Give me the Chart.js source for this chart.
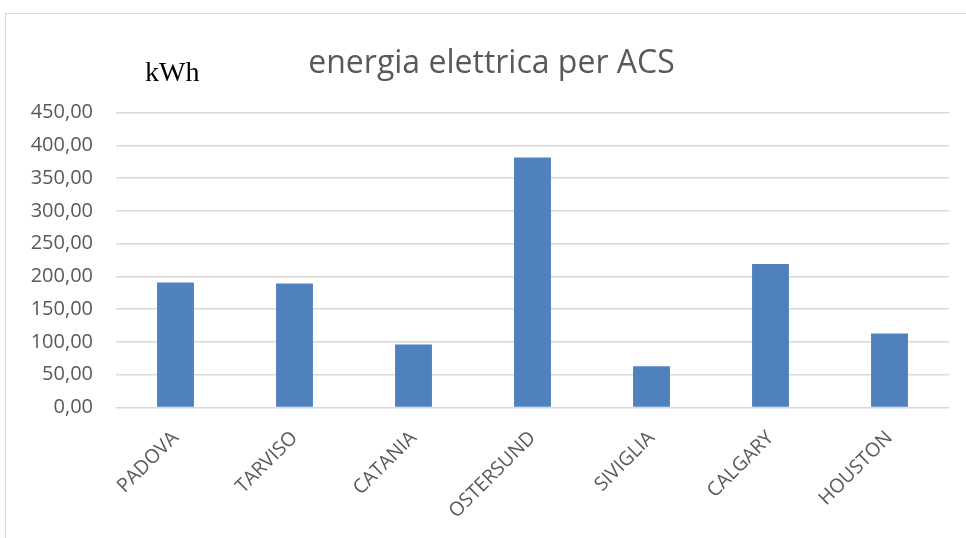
<!DOCTYPE html>
<html>
<head>
<meta charset="utf-8">
<script src="https://cdn.jsdelivr.net/npm/chart.js@4/dist/chart.umd.min.js"></script>
<style>
  html, body { margin: 0; padding: 0; background: #ffffff; }
  body { width: 966px; height: 538px; position: relative; overflow: hidden; }
  #frame { position: absolute; left: 5px; top: 13px; width: 1000px; height: 600px;
           border: 1px solid #d9d9d9; box-sizing: border-box; }
  #wrap { position: absolute; left: 0; top: 0; width: 966px; height: 538px; }
</style>
</head>
<body>
<div id="frame"></div>
<div id="wrap"><canvas id="chart" width="966" height="538"></canvas></div>
<script>
// Cities and electric energy for domestic hot water (kWh)
const cities = ['PADOVA', 'TARVISO', 'CATANIA', 'OSTERSUND', 'SIVIGLIA', 'CALGARY', 'HOUSTON'];
const energyKWh = [190.5, 189, 96, 381.5, 63, 219, 113];
const yMin = 0;
const yMax = 450;
const yStep = 50;
const chartTitle = 'energia elettrica per ACS';
const unitLabel = 'kWh';

const fmt = v => Number(v).toFixed(2).replace('.', ',');

// Title and unit caption drawn on the canvas
const captions = {
  id: 'captions',
  afterDraw(chart) {
    const ctx = chart.ctx;
    ctx.save();
    ctx.textBaseline = 'alphabetic';
    ctx.fillStyle = '#595959';
    ctx.font = '32px "Open Sans"';
    ctx.textAlign = 'center';
    ctx.fillText(chartTitle, 491.5, 73);
    ctx.fillStyle = '#000000';
    ctx.font = '28px "Liberation Serif"';
    ctx.textAlign = 'left';
    ctx.fillText(unitLabel, 145, 81);
    ctx.restore();
  }
};

new Chart(document.getElementById('chart'), {
  type: 'bar',
  data: {
    labels: cities,
    datasets: [{
      data: energyKWh,
      backgroundColor: '#4f81bd',
      borderWidth: 0,
      barPercentage: 0.31,
      categoryPercentage: 1
    }]
  },
  options: {
    responsive: false,
    animation: false,
    devicePixelRatio: 1,
    layout: { padding: { top: 112.5, right: 17, left: 0, bottom: 0 } },
    plugins: {
      legend: { display: false },
      title: { display: false },
      tooltip: { enabled: false }
    },
    scales: {
      x: {
        grid: { display: false, drawTicks: false },
        border: { display: false },
        ticks: {
          color: '#595959',
          font: { family: '"Open Sans"', size: 19.5 },
          minRotation: 45,
          maxRotation: 45,
          padding: 19
        },
        afterFit(scale) { scale.height = 130.5; }
      },
      y: {
        min: yMin,
        max: yMax,
        grid: { color: '#d9d9d9', lineWidth: 1.5, drawTicks: false },
        border: { display: false },
        ticks: {
          stepSize: yStep,
          color: '#595959',
          font: { family: '"Open Sans"', size: 20 },
          padding: 23,
          callback: v => fmt(v)
        },
        afterFit(scale) { scale.width = 116; }
      }
    }
  },
  plugins: [captions]
});
</script>
</body>
</html>
